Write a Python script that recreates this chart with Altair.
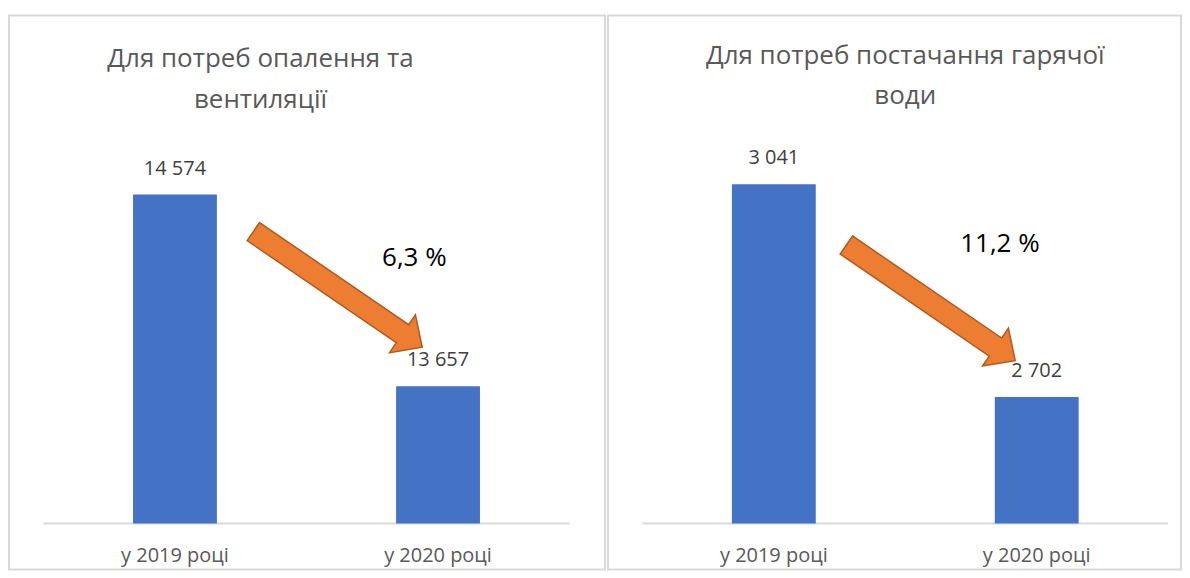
import altair as alt
import pandas as pd

# ---------------- data ----------------
categories = ["у 2019 році", "у 2020 році"]
titles = [
    ["Для потреб опалення та", "вентиляції"],
    ["Для потреб постачання гарячої", "води"],
]
heat_values = [14574, 13657]
water_values = [3041, 2702]
axis_min = [13000, 2500]
axis_max = [14800, 3100]
change_labels = ["6,3 %", "11,2 %"]
# annotation anchors in data units (x: 0 = first bar, 1 = second bar)
change_x = [0.91, 0.86]
change_y = [14270, 2946]
arrow_x = [0.619, 0.597]
arrow_y = [14120, 2852]
title_x = [0.325, 0.5]
title_y = [[15220, 15024], [3245, 3181]]

# ---------------- style / layout ----------------
FONT = "Open Sans"
BAR_COLOR = "#4472C4"
ARROW_FILL = "#ED7D31"
ARROW_STROKE = "#AE5A21"
BORDER = "#D9D9D9"
PANEL_W = [597, 574]
PANEL_H = 555
PLOT_LEFT, PLOT_RIGHT = 30, 566      # plot area inside each panel (px)
PLOT_TOP, PLOT_BOTTOM = 132, 509
ARROW_PATH = ("M-1,-0.107L0.766,-0.107L0.766,-0.224L1,0L0.766,0.224"
              "L0.766,0.107L-1,0.107Z")
ARROW_SIZE = 42025
ARROW_ANGLE = 34.4


def fmt(v):
    return f"{v:,}".replace(",", " ")


def panel(i, values):
    W = PANEL_W[i]
    H = PANEL_H
    kx = (PLOT_RIGHT - PLOT_LEFT) / 2.0
    xdom = [-0.5 - PLOT_LEFT / kx, 1.5 + (W - PLOT_RIGHT) / kx]
    ky = (PLOT_BOTTOM - PLOT_TOP) / (axis_max[i] - axis_min[i])
    ydom = [axis_min[i] - (H - PLOT_BOTTOM) / ky, axis_min[i] + PLOT_BOTTOM / ky]

    def X(field):
        return alt.X(field, type="quantitative",
                     scale=alt.Scale(domain=xdom, nice=False, zero=False), axis=None)

    def Y(field):
        return alt.Y(field, type="quantitative",
                     scale=alt.Scale(domain=ydom, nice=False, zero=False), axis=None)

    df = pd.DataFrame({
        "pos": [0, 1],
        "cat": categories,
        "value": values,
        "label": [fmt(v) for v in values],
        "base": [axis_min[i]] * 2,
    })

    rule_df = pd.DataFrame({"x0": [-0.5], "x1": [1.5], "y": [axis_min[i]]})
    rule = alt.Chart(rule_df).mark_rule(color=BORDER, strokeWidth=2).encode(
        x=X("x0"), x2=alt.X2("x1"), y=Y("y"))

    bars = alt.Chart(df).mark_bar(color=BAR_COLOR, width=84).encode(
        x=X("pos"), y=Y("value"), y2=alt.Y2("base"))

    labels = alt.Chart(df).mark_text(
        dy=-26, baseline="middle", align="center", fontSize=20,
        color="#404040", font=FONT).encode(x=X("pos"), y=Y("value"),
                                           text=alt.Text("label", type="nominal"))

    cats = alt.Chart(df).mark_text(
        dy=32, baseline="middle", align="center", fontSize=20,
        color="#595959", font=FONT).encode(x=X("pos"), y=Y("base"),
                                           text=alt.Text("cat", type="nominal"))

    arrow_df = pd.DataFrame({"x": [arrow_x[i]], "y": [arrow_y[i]]})
    arrow = alt.Chart(arrow_df).mark_point(
        shape=ARROW_PATH, size=ARROW_SIZE, angle=ARROW_ANGLE, filled=True,
        fill=ARROW_FILL, stroke=ARROW_STROKE, strokeWidth=1.5, opacity=1
    ).encode(x=X("x"), y=Y("y"))

    pct_df = pd.DataFrame({"x": [change_x[i]], "y": [change_y[i]],
                           "t": [change_labels[i]]})
    pct = alt.Chart(pct_df).mark_text(
        fontSize=26, color="#000000", font=FONT, baseline="middle",
        align="center").encode(x=X("x"), y=Y("y"), text=alt.Text("t", type="nominal"))

    title_df = pd.DataFrame({"x": [title_x[i]] * 2, "y": title_y[i],
                             "t": titles[i]})
    title = alt.Chart(title_df).mark_text(
        fontSize=26, color="#595959", font=FONT, baseline="middle",
        align="center").encode(x=X("x"), y=Y("y"), text=alt.Text("t", type="nominal"))

    return alt.layer(rule, bars, labels, cats, arrow, pct, title).properties(
        width=W, height=H)


chart = alt.hconcat(panel(0, heat_values), panel(1, water_values), spacing=1).properties(
    padding={"left": 0, "top": 6, "right": 0, "bottom": 0},
    background="white",
).configure_view(stroke=BORDER, strokeWidth=2)

chart.save("out.html", embed_options={"renderer": "svg", "actions": False})
